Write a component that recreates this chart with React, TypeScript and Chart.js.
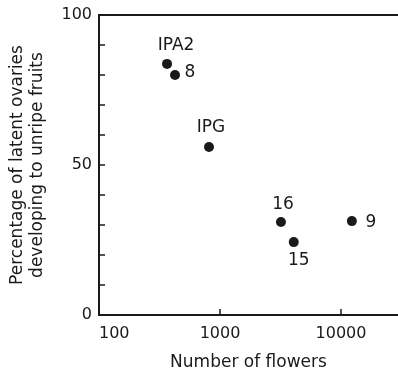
import { useEffect, useRef } from 'react';
import { Chart, registerables } from 'chart.js';

Chart.register(...registerables);

// ---- data ----
const siteLabels = ['IPA2', '8', 'IPG', '16', '15', '9'];
const flowerCounts = [365, 425, 811, 3190, 4070, 12300];
const ovaryPercent = [83.7, 80, 56, 31, 24.3, 31.3];
const xTickValues = [100, 1000, 10000];
const yLabelValues = [0, 50, 100];
const yTitleLines = ['Percentage of latent ovaries', 'developing to unripe fruits'];
const xTitle = 'Number of flowers';

// ---- style ----
const INK = '#1a1a1a';
const FONT = '"DejaVu Sans", sans-serif';
const labelOffsets: [number, number][] = [
  [9, -18],
  [15, -2],
  [2, -19],
  [2, -17],
  [5, 18],
  [19, 1],
];

const framePlugin = {
  id: 'frame',
  afterDraw(chart: any) {
    const { ctx, chartArea, scales } = chart;
    const { left, right, top, bottom } = chartArea;
    const x = scales.x;
    const y = scales.y;
    ctx.save();
    ctx.strokeStyle = INK;
    ctx.lineWidth = 2;
    ctx.beginPath();
    ctx.moveTo(left - 1, top);
    ctx.lineTo(right, top);
    ctx.stroke();
    ctx.lineWidth = 1.5;
    ctx.beginPath();
    y.ticks.forEach((t: any) => {
      const py = y.getPixelForValue(t.value);
      ctx.moveTo(left, py);
      ctx.lineTo(left + 6, py);
    });
    xTickValues.forEach((v) => {
      const px = x.getPixelForValue(v);
      ctx.moveTo(px, bottom);
      ctx.lineTo(px, bottom - 6);
    });
    ctx.stroke();
    ctx.fillStyle = INK;
    ctx.font = `17px ${FONT}`;
    ctx.textAlign = 'center';
    ctx.textBaseline = 'middle';
    chart.getDatasetMeta(0).data.forEach((pt: any, i: number) => {
      const [dx, dy] = labelOffsets[i];
      ctx.fillText(siteLabels[i], pt.x + dx, pt.y + dy);
    });
    ctx.restore();
  },
};

export default function App() {
  const canvasRef = useRef<HTMLCanvasElement>(null);

  useEffect(() => {
    const canvas = canvasRef.current;
    if (!canvas) return;
    const chart = new Chart(canvas, {
      type: 'scatter',
      data: {
        datasets: [
          {
            data: flowerCounts.map((v, i) => ({ x: v, y: ovaryPercent[i] })),
            backgroundColor: INK,
            borderWidth: 0,
            pointRadius: 5,
            pointHoverRadius: 5,
          },
        ],
      },
      options: {
        animation: false,
        responsive: true,
        maintainAspectRatio: false,
        layout: { autoPadding: false, padding: { top: 15, right: 0, left: 0, bottom: 0 } },
        plugins: { legend: { display: false }, tooltip: { enabled: false } },
        scales: {
          x: {
            type: 'logarithmic',
            min: 100,
            max: 29600,
            afterBuildTicks: (scale: any) => {
              scale.ticks = xTickValues.map((v) => ({ value: v }));
            },
            afterFit: (scale: any) => {
              scale.height = 56;
              scale.paddingLeft = 0;
              scale.paddingRight = 0;
            },
            grid: { display: false, drawTicks: false, tickLength: 0 },
            border: { display: true, color: INK, width: 2 },
            ticks: {
              color: INK,
              font: { family: FONT, size: 16 },
              padding: 9,
              autoSkip: false,
              maxRotation: 0,
              callback: (v: any) => (v === 100 ? '      100' : String(v)),
            },
            title: {
              display: true,
              text: xTitle,
              color: INK,
              font: { family: FONT, size: 17, lineHeight: '18px' },
              padding: { top: 0, bottom: -1 },
            },
          },
          y: {
            min: 0,
            max: 100,
            afterFit: (scale: any) => {
              scale.width = 99;
              scale.paddingTop = 0;
              scale.paddingBottom = 0;
            },
            grid: { display: false, drawTicks: false, tickLength: 0 },
            border: { display: true, color: INK, width: 2 },
            ticks: {
              stepSize: 10,
              color: INK,
              font: { family: FONT, size: 16 },
              padding: 7,
              callback: (v: any) => (yLabelValues.includes(v) ? String(v) : ''),
            },
            title: {
              display: true,
              text: yTitleLines,
              color: INK,
              font: { family: FONT, size: 17, lineHeight: '20px' },
              padding: { top: 8, bottom: 0 },
            },
          },
        },
      },
      plugins: [framePlugin],
    });
    return () => chart.destroy();
  }, []);

  return (
    <div style={{ position: 'absolute', left: 0, top: 0, width: 398, height: 371, background: '#fff' }}>
      <canvas ref={canvasRef} />
    </div>
  );
}
